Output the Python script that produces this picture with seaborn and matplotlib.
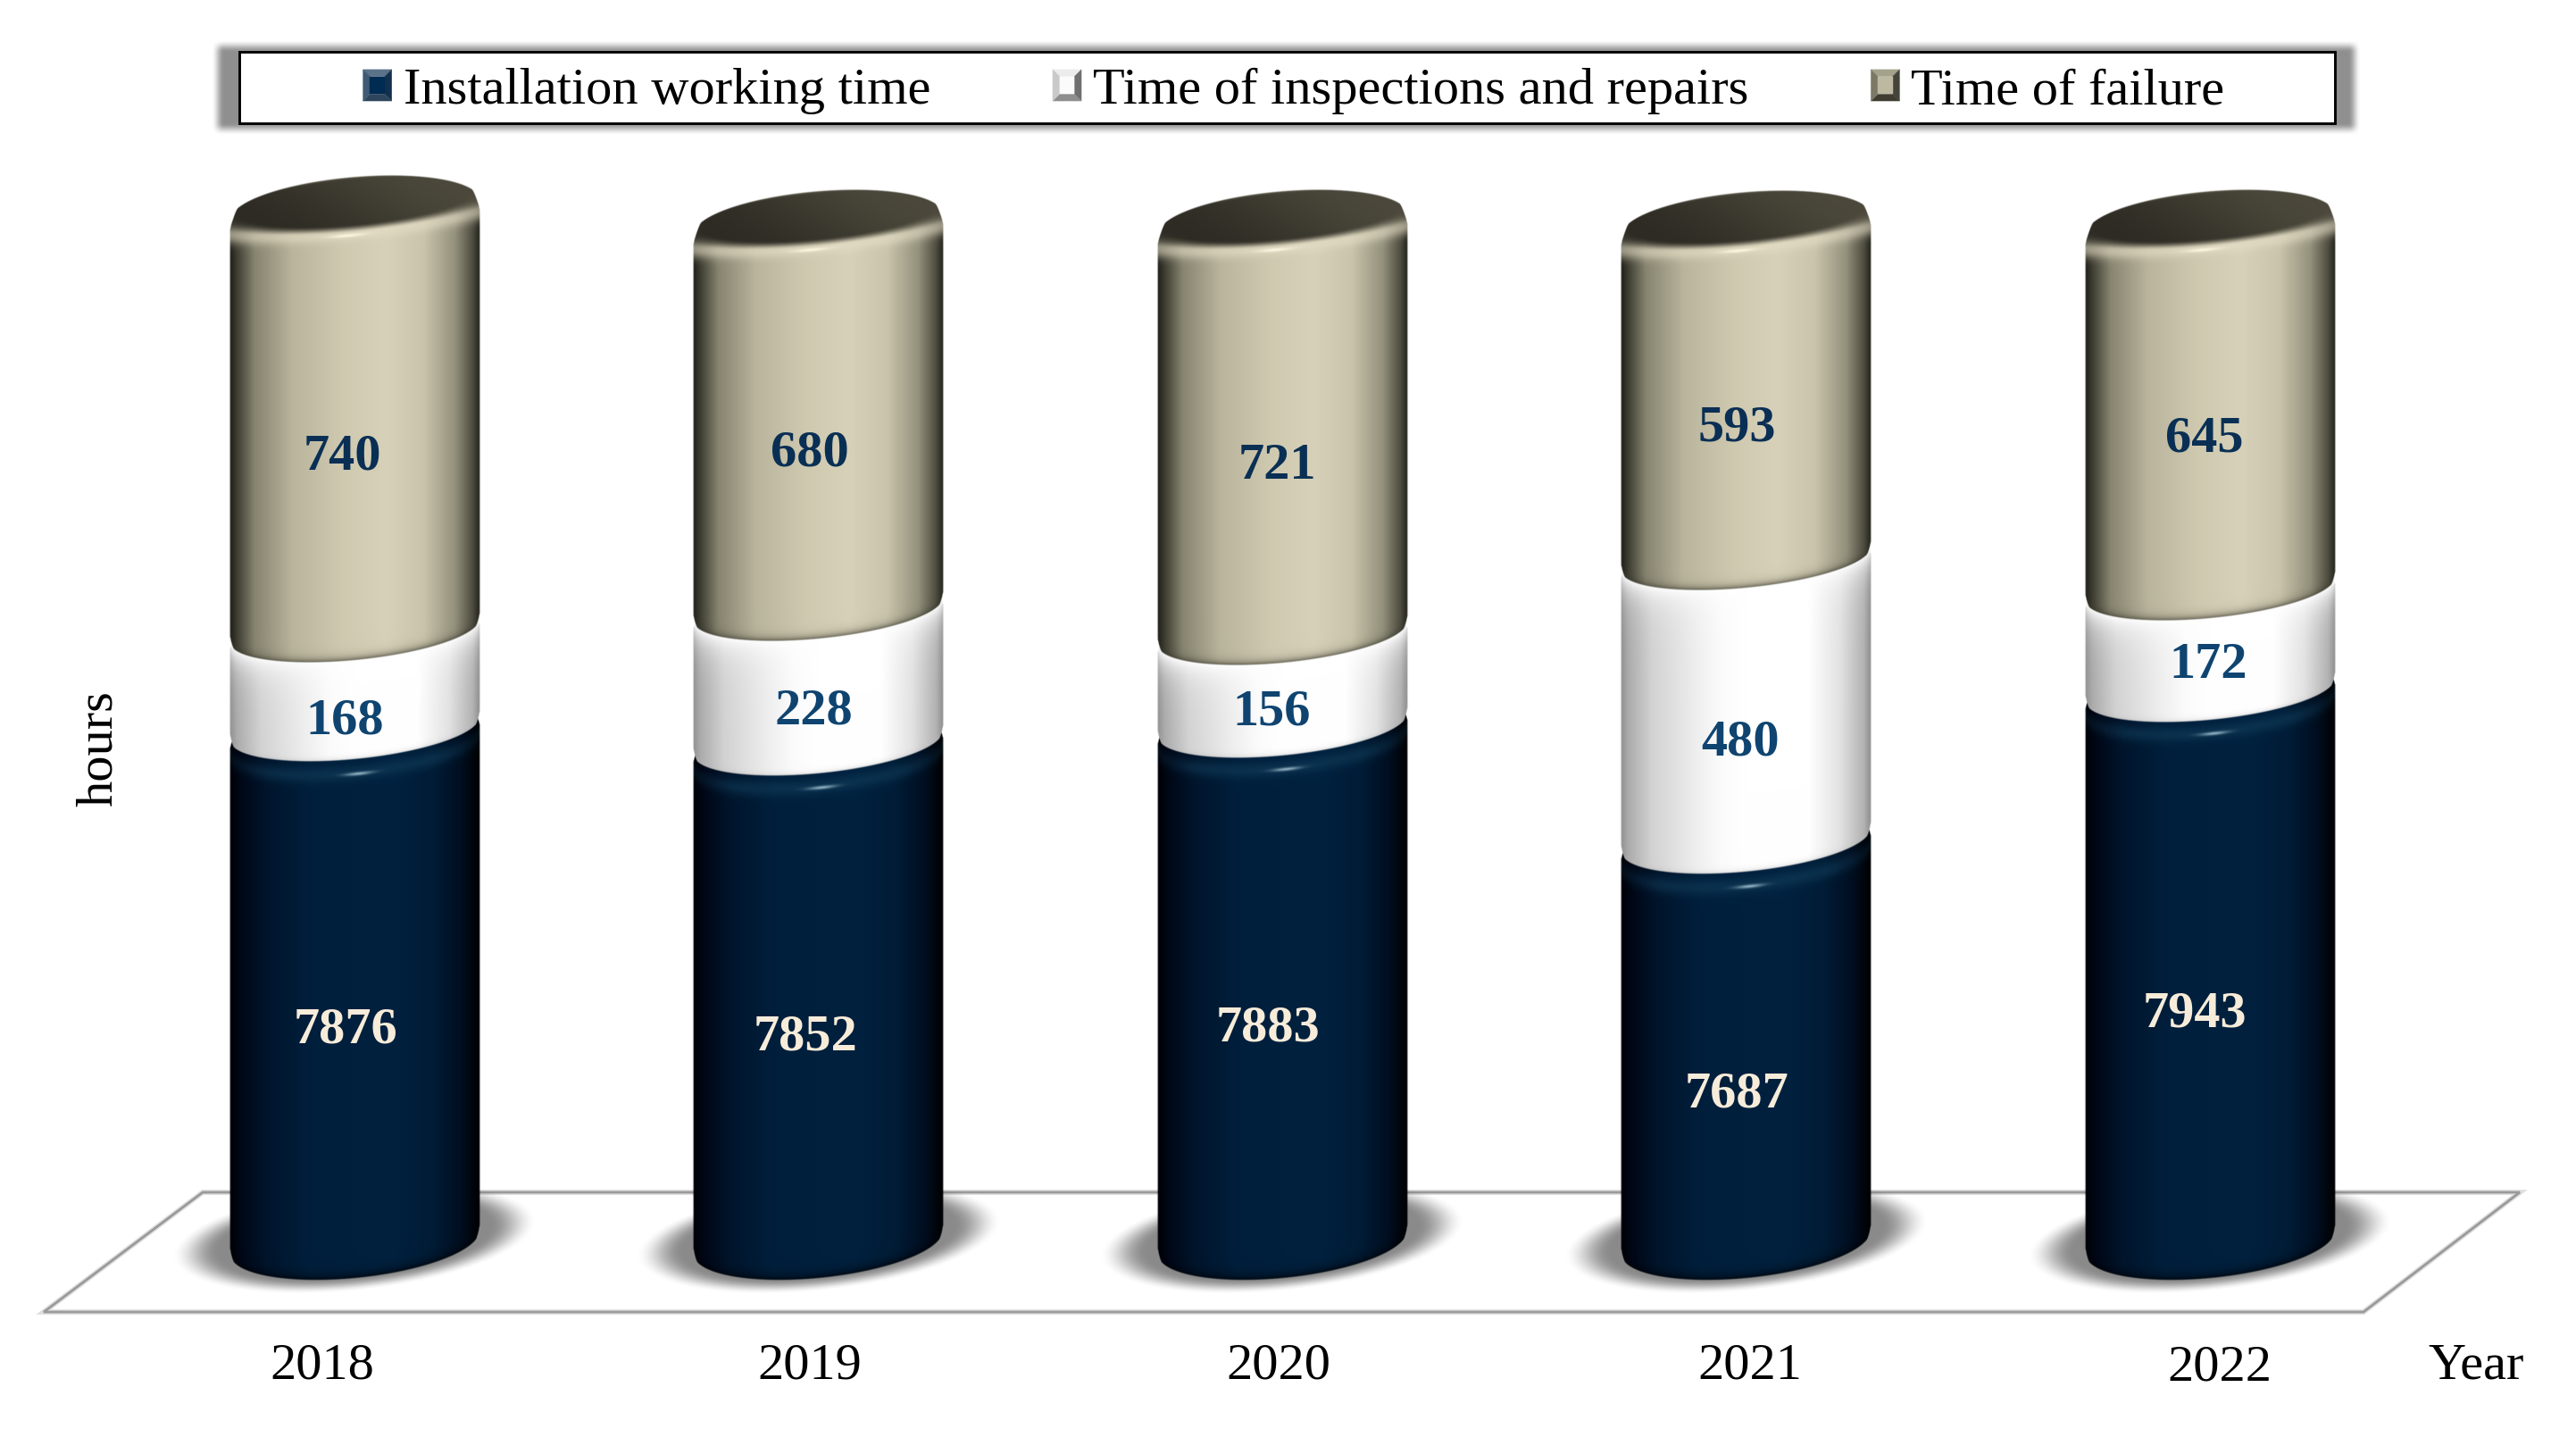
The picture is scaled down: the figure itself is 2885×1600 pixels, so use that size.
import numpy as np
import pandas as pd
import matplotlib
matplotlib.use("Agg")
import matplotlib.pyplot as plt
import seaborn as sns
from matplotlib.patches import Polygon, Rectangle, Patch
from matplotlib.path import Path
from matplotlib.legend_handler import HandlerBase
from matplotlib.colors import to_rgb

# ---- data ----
YEARS = ["2018", "2019", "2020", "2021", "2022"]
WORKING = [7876, 7852, 7883, 7687, 7943]
REPAIRS = [168, 228, 156, 480, 172]
FAILURE = [740, 680, 721, 593, 645]
SERIES_NAMES = ["Installation working time", "Time of inspections and repairs", "Time of failure"]
X_TITLE = "Year"
Y_TITLE = "hours"
AXIS_MIN = 7000

# ---- figure geometry ----
W, H = 2885, 1600
PX_PER_CAT = 519.5
PX_PER_HOUR = 0.6624
X0_PX, Y0_PX = 397, 1434
HW = 0.2705            # half bar width (category units)
K = 20.0               # ellipse tilt (hours)
FS = 42

sns.set_theme(style="white")
plt.rcParams["font.family"] = ["Liberation Serif", "DejaVu Serif"]

fig = plt.figure(figsize=(W / 100, H / 100), dpi=100, facecolor="white")
ax = fig.add_axes([0, 0, 1, 1])


def dx(px):
    return (px - X0_PX) / PX_PER_CAT


def dy(py):
    return AXIS_MIN + (Y0_PX - py) / PX_PER_HOUR


def fx(px):
    return px / W


def fy(py):
    return 1 - py / H


def smooth(a, b, x):
    t = np.clip((x - a) / (b - a), 0, 1)
    return t * t * (3 - 2 * t)


def stops(u, table):
    xs = [s[0] for s in table]
    cols = np.array([to_rgb(s[1]) for s in table])
    return np.stack([np.interp(u, xs, cols[:, i]) for i in range(3)], axis=-1)


def mix(base, col, w):
    col = np.array(to_rgb(col)) if isinstance(col, str) else col
    return base + (col - base) * w[..., None]


def b_at(v):
    return 60 - (v - AXIS_MIN) / 1760 * 18


def centre(v):
    b = b_at(v)
    return v + np.hypot(b, K)


NAVY = [(-1, "#000004"), (-.9, "#000818"), (-.7, "#00152c"), (-.35, "#001f3c"), (.3, "#00213f"),
        (.62, "#001c36"), (.85, "#000e20"), (1, "#000000")]
KHAKI = [(-1, "#1c1c15"), (-.94, "#3e3d32"), (-.8, "#86836f"), (-.5, "#b9b49c"), (-.1, "#cfc9b0"),
         (.25, "#d7d1b9"), (.55, "#c9c4ab"), (.8, "#93907c"), (.94, "#4e4c3f"), (1, "#1f1f18")]
PALE = [(-1, "#8e8e8e"), (-.94, "#ababab"), (-.75, "#d2d2d2"), (-.4, "#eeeeee"), (-.2, "#fbfbfb"),
        (0, "#ffffff"), (.5, "#ffffff"), (.75, "#e2e2e2"), (.94, "#b2b2b2"), (1, "#8a8a8a")]
FLAT = {"navy": "#00213f", "pale": "#f4f4f4", "khaki": "#cfc9b0"}


def arc(u, c, b, sign, k=K):
    return c + k * u + sign * b * np.sqrt(np.clip(1 - (u / 0.992) ** 2, 0, 1))


def draw_segment(xc, lo, hi, kind, z):
    b0, c0 = b_at(lo), centre(lo)
    if kind == "khaki":
        b1 = 38.0
        c1 = hi - 4.5 + np.hypot(b1, K)
        c_out, b_out, k_out = hi + 26, 55.5, 17.0
    else:
        b1, c1 = b_at(hi), centre(hi)
        c_out, b_out, k_out = c1, b1, K
    ymin, ymax = c0 - b0 - K - 6, c_out + b_out + k_out + 6
    nx = int(2 * HW * PX_PER_CAT * 2 + 8)
    ny = int((ymax - ymin) * PX_PER_HOUR * 2)
    xs = np.linspace(xc - HW * 1.02, xc + HW * 1.02, nx)
    ys = np.linspace(ymin, ymax, ny)
    X, Y = np.meshgrid(xs, ys)
    u = (X - xc) / HW
    ua = np.clip(u, -1, 1)
    table = {"navy": NAVY, "pale": PALE, "khaki": KHAKI}[kind]
    col = stops(ua, table)

    bot = arc(ua, c0, b0, -1) + 9 * smooth(.962, 1, np.abs(ua))
    round_top = 16 if kind == "khaki" else 9
    top_back = arc(ua, c_out, b_out, 1, k_out) - round_top * smooth(.93, 1, np.abs(ua))
    front = arc(ua, c1, b1, -1)
    d = (front - Y) / b1
    e = (Y - bot) / b0
    w = (Y - c1 - K * ua) / b1

    if kind == "navy":
        col = mix(col, "#14425f", .48 * np.exp(-((d - .42) / .26) ** 2) * (1 - .6 * smooth(.6, 1, np.abs(ua))))
        col = mix(col, "#a9c8d6", .85 * np.exp(-((ua - .03) / .11) ** 2) * np.exp(-((d - .46) / .055) ** 2))
        col = mix(col, "#000308", .92 * np.exp(-np.clip(e, 0, None) / .13))
    elif kind == "pale":
        col = mix(col, "#ffffff", .9 * np.exp(-np.clip(d, 0, None) / .55) * (d > -3))
        col = mix(col, "#b4b4b4", .6 * np.exp(-np.clip(e, 0, None) / .07))
    else:
        rf = np.sqrt((ua / .93) ** 2 + w ** 2)
        light = mix(col, "#e6dfc7", .6 * np.exp(-((rf - 1.42) / .3) ** 2) * (w < 0))
        light = mix(light, "#fff9e4", .95 * np.exp(-((ua + .06) / .14) ** 2) * np.exp(-((rf - 1.47) / .07) ** 2))
        face_l, face_r = np.array(to_rgb("#2e2b24")), np.array(to_rgb("#4c493c"))
        face = face_l + (face_r - face_l) * smooth(-1, 1, ua + .25 * w)[..., None]
        t = smooth(.99, 1.36, rf)
        col = face + (light - face) * t[..., None]
        col = mix(col, "#3a392d", .85 * np.exp(-np.clip(e, 0, None) / .12))

    edge_x = 1 / (PX_PER_CAT * .8)
    edge_y = 1 / (PX_PER_HOUR * .8)
    alpha = (np.clip((HW - np.abs(X - xc)) / edge_x, 0, 1)
             * np.clip((Y - bot) / edge_y, 0, 1)
             * np.clip((top_back - Y) / edge_y, 0, 1))
    rgba = np.dstack([np.clip(col, 0, 1), alpha])
    ax.imshow(rgba, extent=(xs[0], xs[-1], ys[0], ys[-1]), origin="lower", aspect="auto",
              interpolation="bilinear", zorder=z)
    # path used to keep the seaborn bar inside the cylinder body
    th = np.linspace(np.pi, 2 * np.pi, 40)
    p1 = np.c_[xc + .96 * HW * np.cos(th), c0 + K * np.cos(th) + b0 * .9 * np.sin(th)]
    th = np.linspace(0, np.pi, 40)
    p2 = np.c_[xc + .96 * HW * np.cos(th), c1 + K * np.cos(th)]
    return Path(np.r_[p1, p2, p1[:1]], closed=True)


def draw_shadow(xc):
    aa, bb, kk = 200 / PX_PER_CAT, 58 / PX_PER_HOUR, 19 / PX_PER_HOUR
    cy = dy(1387)
    xs = np.linspace(xc - aa * 1.08, xc + aa * 1.08, 240)
    ys = np.linspace(cy - (bb + kk) * 1.2, cy + (bb + kk) * 1.2, 160)
    X, Y = np.meshgrid(xs, ys)
    uu = (X - xc) / aa
    ww = (Y - cy - kk * uu) / bb
    r = np.sqrt(uu ** 2 + ww ** 2)
    a = .46 * (1 - smooth(.76, 1.03, r))
    rgba = np.dstack([np.zeros_like(a), np.zeros_like(a), np.zeros_like(a), a])
    ax.imshow(rgba, extent=(xs[0], xs[-1], ys[0], ys[-1]), origin="lower", aspect="auto",
              interpolation="bilinear", zorder=1.5)


# ---- stacked bars through seaborn ----
df = pd.DataFrame({"year": YEARS, "working": WORKING, "repairs": REPAIRS, "failure": FAILURE})
df["r_top"] = df["working"] + df["repairs"]

layers = [
    ("working", np.full(len(df), AXIS_MIN, dtype=float), lambda s: s - AXIS_MIN, "navy", 3),
    ("repairs", df["working"].to_numpy(dtype=float), lambda s: s, "pale", 4),
    ("failure", df["r_top"].to_numpy(dtype=float), lambda s: s, "khaki", 5),
]
for col_name, bottoms, height_of, kind, z in layers:
    before = len(ax.patches)
    sns.barplot(x=df["year"], y=height_of(df[col_name]), bottom=bottoms, order=YEARS,
                color=FLAT[kind], saturation=1, width=2 * HW, ax=ax, legend=False)
    for rect in ax.patches[before:]:
        xc = rect.get_x() + rect.get_width() / 2
        lo, hi = rect.get_y(), rect.get_y() + rect.get_height()
        clip = draw_segment(xc, lo, hi, kind, z + .5)
        rect.set_zorder(z)
        rect.set_linewidth(0)
        rect.set_clip_path(clip, transform=ax.transData)
        if kind == "navy":
            draw_shadow(xc)

# ---- floor ----
floor = [(49, 1469), (2647, 1469), (2822, 1335), (227, 1335)]
floor_ax = [(fx(a), fy(b)) for a, b in floor]
ax.add_patch(Polygon(floor_ax, closed=True, transform=ax.transAxes, facecolor="white",
                     edgecolor="#dedede", linewidth=4.2, zorder=1, joinstyle="miter"))
ax.add_patch(Polygon(floor_ax, closed=True, transform=ax.transAxes, facecolor="none",
                     edgecolor="#9a9a9a", linewidth=2.0, zorder=1.2, joinstyle="miter"))

# ---- legend box with soft shadow ----
sx0, sx1, sy0, sy1 = 243, 2638, 51, 145
gx = np.linspace(sx0 - 10, sx1 + 10, 1300)
gy = np.linspace(sy0 - 10, sy1 + 10, 90)
GX, GY = np.meshgrid(gx, gy)
sa = (smooth(sx0 - 7, sx0 + 7, GX) * (1 - smooth(sx1 - 7, sx1 + 7, GX))
      * smooth(sy0 - 7, sy0 + 7, GY) * (1 - smooth(sy1 - 7, sy1 + 7, GY))) * .44
ax.imshow(np.dstack([np.zeros_like(sa), np.zeros_like(sa), np.zeros_like(sa), sa]),
          extent=(dx(gx[0]), dx(gx[-1]), dy(gy[-1]), dy(gy[0])), origin="lower", aspect="auto",
          interpolation="bilinear", zorder=6)
ax.add_patch(Rectangle((fx(268), fy(138)), fx(2615) - fx(268), fy(58) - fy(138), transform=ax.transAxes,
                       facecolor="white", edgecolor="black", linewidth=2.1, zorder=7))


class BevelHandler(HandlerBase):
    def create_artists(self, legend, orig, xd, yd, width, height, fontsize, trans):
        c = orig.bevel
        x0, y0, x1, y1 = -xd, -yd, -xd + width, -yd + height
        i = width * .24
        out = []
        sides = [
            ([(x0, y1), (x1, y1), (x1 - i, y1 - i), (x0 + i, y1 - i)], c[0]),
            ([(x1, y1), (x1, y0), (x1 - i, y0 + i), (x1 - i, y1 - i)], c[1]),
            ([(x0, y0), (x1, y0), (x1 - i, y0 + i), (x0 + i, y0 + i)], c[2]),
            ([(x0, y0), (x0, y1), (x0 + i, y1 - i), (x0 + i, y0 + i)], c[3]),
            ([(x0 + i, y0 + i), (x1 - i, y0 + i), (x1 - i, y1 - i), (x0 + i, y1 - i)], c[4]),
        ]
        for pts, col in sides:
            out.append(Polygon(pts, closed=True, facecolor=col, edgecolor=col, linewidth=.3, transform=trans))
        return out


handles = []
bevels = [("#5c7288", "#12304d", "#2d455d", "#3f5a75", "#002b52"),
          ("#ececec", "#6f6f6f", "#8e8e8e", "#c9c9c9", "#fbfbfb"),
          ("#a5a28c", "#45443a", "#3f3d32", "#7b7965", "#bdb8a0")]
for name, bev in zip(SERIES_NAMES, bevels):
    h = Patch(label=name)
    h.bevel = bev
    handles.append(h)
leg = ax.legend(handles=handles, ncols=3, loc="center", bbox_to_anchor=(fx(1449), fy(102)),
                bbox_transform=ax.transAxes, frameon=False, fontsize=FS, handlelength=.55, handleheight=.55,
                handletextpad=.22, columnspacing=2.35, borderpad=0, borderaxespad=0,
                handler_map={Patch: BevelHandler()}, labelcolor="black")
leg.set_zorder(8)

# ---- value labels ----
LABEL_XY_WORK = [(387, 1153), (902, 1162), (1420, 1151), (1945, 1225), (2458, 1135)]
LABEL_XY_REP = [(386, 808), (911, 796), (1424, 798), (1949, 831), (2473, 745)]
LABEL_XY_FAIL = [(383, 511), (907, 507), (1430, 522), (1945, 480), (2469, 491)]
for values, xy, colour in [(WORKING, LABEL_XY_WORK, "#f7ecd9"),
                           (REPAIRS, LABEL_XY_REP, "#0f4470"),
                           (FAILURE, LABEL_XY_FAIL, "#0a2f54")]:
    for v, (px, py) in zip(values, xy):
        ax.text(fx(px), fy(py), str(v), transform=ax.transAxes, ha="center", va="center",
                fontsize=FS, fontweight="bold", color=colour, zorder=10)

# ---- axis texts ----
YEAR_XY = [(361, 1530), (907, 1529), (1432, 1529), (1960, 1529), (2486, 1531)]
for y, (px, py) in zip(YEARS, YEAR_XY):
    ax.text(fx(px), fy(py), y, transform=ax.transAxes, ha="center", va="center", fontsize=FS, color="black")
ax.text(fx(2773), fy(1530), X_TITLE, transform=ax.transAxes, ha="center", va="center", fontsize=FS, color="black")
ax.text(fx(111), fy(838), Y_TITLE, transform=ax.transAxes, ha="center", va="center", rotation=90,
        fontsize=FS, color="black")

ax.set_xlim(dx(0), dx(W))
ax.set_ylim(dy(H), dy(0))
ax.set_axis_off()
fig.savefig("out.png", dpi=100, facecolor="white")
